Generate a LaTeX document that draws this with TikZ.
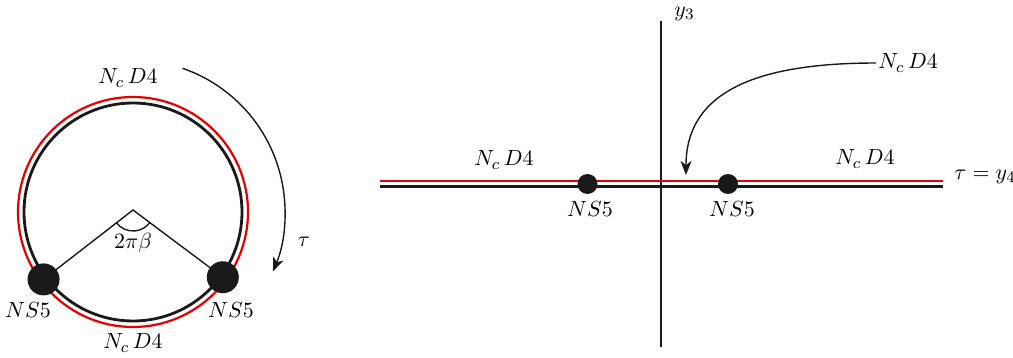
\documentclass[tikz,border=0pt]{standalone}
\usetikzlibrary{arrows.meta,calc}
\begin{document}
\begin{tikzpicture}[x=0.5pt,y=-0.5pt,
  lbl/.style={inner sep=1pt,font=\fontsize{11}{13}\selectfont},
  blk/.style={line width=1.4pt,black!90},
  redl/.style={line width=1.1pt,red!90!black},
  thin/.style={line width=0.7pt,black!90},
  bigdot/.style={circle,fill=black!90,inner sep=0pt,minimum size=16pt},
  smalldot/.style={circle,fill=black!90,inner sep=0pt,minimum size=10pt},
  arr/.style={thin,-{Stealth[length=7pt,width=5.5pt,inset=2pt]}}]
\useasboundingbox (0,0) rectangle (1013,358);
% ---------- left: circle ----------
\coordinate (c) at (133,212);
\draw[redl] (c) circle[radius=57.5pt];
\draw[blk] (c) circle[radius=54.5pt];
\coordinate (apex) at (133,210);
\node[bigdot] (L) at ($(c)+(217:56pt)$) {};
\node[bigdot] (R) at ($(c)+(-36:55.5pt)$) {};
\draw[thin] (L.center) -- (apex) -- (R.center);
\draw[thin] ($(apex)+(216:10.5pt)$) arc[start angle=216,end angle=324,radius=10.5pt];
\node[lbl] (ang) at (133,243) {$2\pi\beta$};
\node[lbl] (ltop) at (128,78) {$N_c\,D4$};
\node[lbl] (lbot) at (133,343) {$N_c\,D4$};
\node[lbl] (lns1) at (28,310) {$NS5$};
\node[lbl] (lns2) at (231,310) {$NS5$};
\coordinate (tstart) at ($(c)+(71:76pt)$);
\draw[arr] (tstart) arc[start angle=71,end angle=-23,radius=76pt];
\node[lbl] (tau) at (304,242) {$\tau$};
% ---------- right: line ----------
\coordinate (vtop) at (661,21);
\coordinate (vbot) at (661,347);
\draw[blk] (vtop) -- (vbot);
\node[lbl,anchor=west] (y3) at (672,14) {$y_3$};
\coordinate (rl) at (380,181);
\coordinate (rr) at (943,181);
\coordinate (bl) at (380,186.5);
\coordinate (br) at (943,186.5);
\draw[redl] (rl) -- (rr);
\draw[blk] (bl) -- (br);
\node[smalldot] (d1) at (587.5,184) {};
\node[smalldot] (d2) at (728,184) {};
\node[lbl] (rns1) at (590,209) {$NS5$};
\node[lbl] (rns2) at (732,209) {$NS5$};
\node[lbl] (rd1) at (504,160) {$N_c\,D4$};
\node[lbl] (rd2) at (865,159) {$N_c\,D4$};
\node[lbl,anchor=west] (tauy) at (952,177) {$\tau=y_4$};
\node[lbl,anchor=west] (rd3) at (876,63) {$N_c\,D4$};
\coordinate (tip) at (686,175);
\draw[arr] (rd3.west) .. controls (760,63) and (686,90) .. (tip);
\end{tikzpicture}
\end{document}
